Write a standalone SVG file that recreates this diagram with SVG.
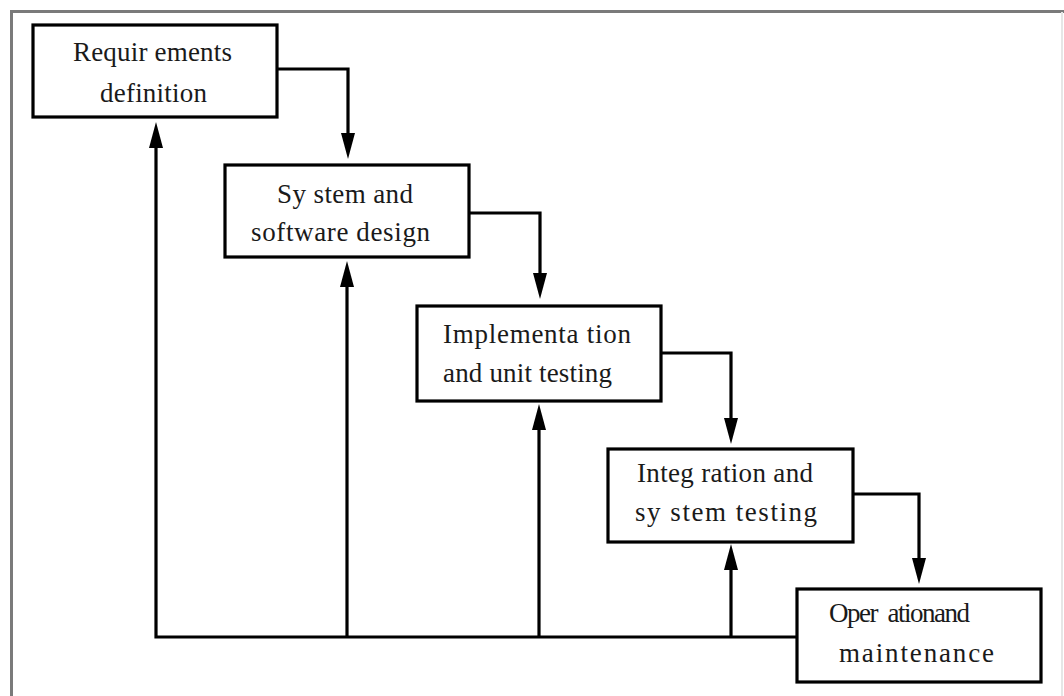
<svg xmlns="http://www.w3.org/2000/svg" width="1064" height="696" viewBox="0 0 1064 696">
  <defs>
    <marker id="arr" markerUnits="userSpaceOnUse" markerWidth="26" markerHeight="14" viewBox="0 0 26 14" refX="1" refY="7" orient="auto">
      <path d="M0,0 L26,7 L0,14 z" fill="#000"/>
    </marker>
    <style>
      .box { fill: #fff; stroke: #000; stroke-width: 3.2; }
      .lbl { font-family: "Liberation Serif", "Times New Roman", serif; font-size: 27px; fill: #1a1a1a; white-space: pre; }
      .conn { fill: none; stroke: #000; stroke-width: 3.2; }
      .frame { fill: none; stroke: #7a7a7a; stroke-width: 3; }
    </style>
  </defs>
  <rect x="0" y="0" width="1064" height="696" fill="#fff"/>
  <path class="frame" d="M11.5,700 V11.5 H1070"/>
  <path d="M1062,12 V700" stroke="#e6e6e6" stroke-width="2" fill="none"/>

  <g id="connectors">
    <path class="conn" d="M277,69 H348 V134" marker-end="url(#arr)"/>
    <path class="conn" d="M469,213 H540 V274" marker-end="url(#arr)"/>
    <path class="conn" d="M661,353 H731 V419" marker-end="url(#arr)"/>
    <path class="conn" d="M853,494 H919 V559" marker-end="url(#arr)"/>
    <path class="conn" d="M797,637 H156 V147" marker-end="url(#arr)"/>
    <path class="conn" d="M347,637 V286" marker-end="url(#arr)"/>
    <path class="conn" d="M539,637 V429" marker-end="url(#arr)"/>
    <path class="conn" d="M731,637 V569" marker-end="url(#arr)"/>
  </g>

  <g id="requirements">
    <rect class="box" x="33" y="25" width="244" height="92"/>
    <text class="lbl" x="73" y="61" textLength="159">Requir ements</text>
    <text class="lbl" x="100" y="102" textLength="107">definition</text>
  </g>
  <g id="design">
    <rect class="box" x="225" y="165" width="244" height="92"/>
    <text class="lbl" x="277" y="203" textLength="136">Sy stem and</text>
    <text class="lbl" x="251" y="241" textLength="179">software design</text>
  </g>
  <g id="implementation">
    <rect class="box" x="417" y="306" width="244" height="95"/>
    <text class="lbl" x="443" y="343" textLength="188">Implementa tion</text>
    <text class="lbl" x="443" y="382" textLength="169">and unit testing</text>
  </g>
  <g id="integration">
    <rect class="box" x="608" y="449" width="245" height="93"/>
    <text class="lbl" x="637" y="482" textLength="176">Integ ration and</text>
    <text class="lbl" x="635" y="521" textLength="182">sy stem testing</text>
  </g>
  <g id="operation">
    <rect class="box" x="797" y="589" width="244" height="93"/>
    <text class="lbl" x="829" y="622" textLength="141">Oper  ationand</text>
    <text class="lbl" x="839" y="662" textLength="155">maintenance</text>
  </g>
</svg>
